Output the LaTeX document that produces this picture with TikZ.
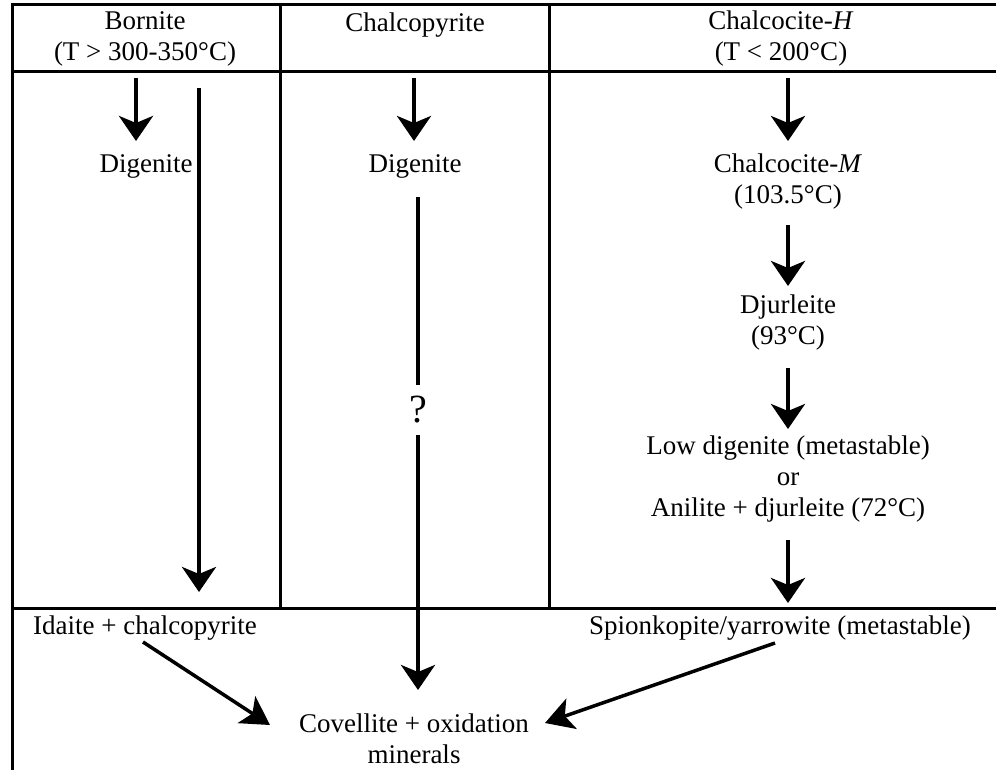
\documentclass[tikz,border=0pt]{standalone}
\usepackage{fontspec}
\setmainfont{Liberation Serif}
\usetikzlibrary{arrows.meta}
\begin{document}
\begin{tikzpicture}[x=1pt,y=-1pt,
  txt/.style={inner sep=0pt,align=center,font=\fontsize{27}{31}\selectfont},
  frame/.style={line width=3pt},
  darrow/.style={line width=4pt,-{Stealth[length=25pt,width=34pt,inset=7pt]}},
  diagarrow/.style={line width=3.5pt,-{Stealth[length=28pt,width=32pt,inset=7pt]}},
  plainline/.style={line width=4pt}]
\useasboundingbox (0,0) rectangle (996,770);
% frame
\draw[frame] (12,770) -- (12,5) -- (1000,5);
\draw[frame] (12,72) -- (1000,72);
\draw[frame] (12,608) -- (1000,608);
\draw[frame] (280,5) -- (280,608);
\draw[frame] (549,5) -- (549,608);
% headers
\node[txt] (bornite) at (145,39) {Bornite\\(T > 300-350°C)};
\node[txt] (chalcopyrite) at (415,25) {Chalcopyrite};
\node[txt] (chH) at (781,39) {Chalcocite-\textit{H}\\(T < 200°C)};
% texts
\node[txt] (dig1) at (146,166) {Digenite};
\node[txt] (dig2) at (415,166) {Digenite};
\node[txt] (chM) at (788,182) {Chalcocite-\textit{M}\\(103.5°C)};
\node[txt] (djur) at (788,323) {Djurleite\\(93°C)};
\node[txt] (lowdig) at (788,479) {Low digenite (metastable)\\or\\Anilite + djurleite (72°C)};
\node[txt] (idaite) at (145,628) {Idaite + chalcopyrite};
\node[txt] (spion) at (780,628) {Spionkopite/yarrowite (metastable)};
\node[txt] (cov) at (414,739) {Covellite + oxidation\\minerals};
\node[txt,font=\fontsize{40}{44}\selectfont] (q) at (418,410) {?};
% arrow endpoints
\coordinate (b1s) at (136,78);  \coordinate (b1e) at (136,141);
\coordinate (b2s) at (199,88);  \coordinate (b2e) at (199,592);
\coordinate (c1s) at (414,78);  \coordinate (c1e) at (414,141);
\coordinate (c2s) at (418,197); \coordinate (c2m) at (418,385);
\coordinate (c2n) at (418,435); \coordinate (c2e) at (418,690);
\coordinate (h1s) at (788,78);  \coordinate (h1e) at (788,141);
\coordinate (h2s) at (788,225); \coordinate (h2e) at (788,286);
\coordinate (h3s) at (788,368); \coordinate (h3e) at (788,429);
\coordinate (h4s) at (788,540); \coordinate (h4e) at (788,603);
\coordinate (is) at (143,642);  \coordinate (ie) at (270,725);
\coordinate (ss) at (775,643);  \coordinate (se) at (545,723);
% arrows
\draw[darrow] (b1s) -- (b1e);
\draw[darrow] (b2s) -- (b2e);
\draw[darrow] (c1s) -- (c1e);
\draw[plainline] (c2s) -- (c2m);
\draw[darrow] (c2n) -- (c2e);
\draw[darrow] (h1s) -- (h1e);
\draw[darrow] (h2s) -- (h2e);
\draw[darrow] (h3s) -- (h3e);
\draw[darrow] (h4s) -- (h4e);
\draw[diagarrow] (is) -- (ie);
\draw[diagarrow] (ss) -- (se);
\end{tikzpicture}
\end{document}
